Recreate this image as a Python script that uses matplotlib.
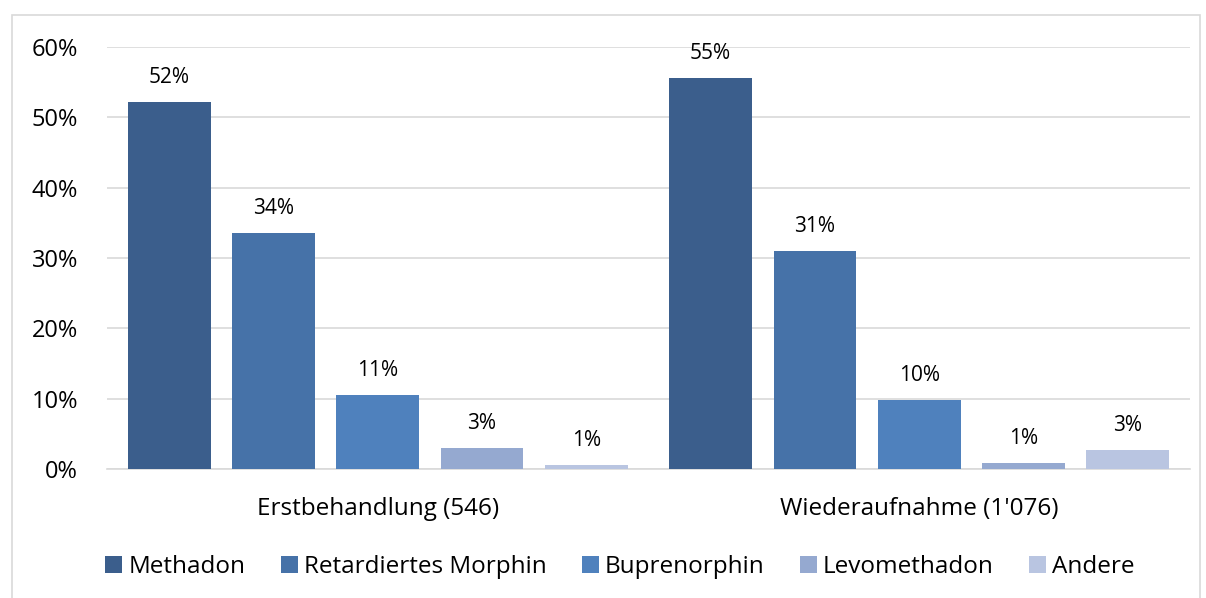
import numpy as np
import matplotlib.pyplot as plt
from matplotlib.patches import Rectangle

plt.rcParams['font.family'] = ['Open Sans', 'DejaVu Sans']

gruppen = ["Erstbehandlung (546)", "Wiederaufnahme (1'076)"]
serien = ["Methadon", "Retardiertes Morphin", "Buprenorphin", "Levomethadon", "Andere"]
werte = {
    "Methadon": [52.2, 55.6],
    "Retardiertes Morphin": [33.6, 31.0],
    "Buprenorphin": [10.5, 9.8],
    "Levomethadon": [3.0, 0.85],
    "Andere": [0.6, 2.7],
}
beschriftung = {
    "Methadon": ["52%", "55%"],
    "Retardiertes Morphin": ["34%", "31%"],
    "Buprenorphin": ["11%", "10%"],
    "Levomethadon": ["3%", "1%"],
    "Andere": ["1%", "3%"],
}
farben = ["#3B5E8C", "#4672A8", "#4F81BD", "#95A9D0", "#B9C5E1"]
yticks = [0, 10, 20, 30, 40, 50, 60]

fig = plt.figure(figsize=(12.06, 5.98), dpi=100)
ax = fig.add_axes([107/1206, 1 - 469/598, (1190 - 107)/1206, (469 - 47)/598])

# Rahmen um das Diagramm
fig.patches.append(Rectangle((12/1206, -0.01), (1200 - 12)/1206, 1 - 15/598 + 0.01,
                             transform=fig.transFigure, fill=False,
                             edgecolor="#D9D9D9", linewidth=1.2))

x = np.arange(len(gruppen))
schritt = 0.1926
breite = 0.153
for k, (name, farbe) in enumerate(zip(serien, farben)):
    pos = x + (k - 2) * schritt
    bars = ax.bar(pos, werte[name], width=breite, color=farbe, label=name, zorder=3)
    for b, txt in zip(bars, beschriftung[name]):
        ax.annotate(txt, (b.get_x() + b.get_width()/2, b.get_height()),
                    xytext=(0, 10), textcoords="offset points",
                    ha="center", va="bottom", fontsize=15)

ax.set_xlim(-0.5, 1.5)
ax.set_ylim(0, 60)
ax.set_yticks(yticks)
ax.set_yticklabels([f"{t}%" for t in yticks], fontsize=17)
ax.set_xticks(x)
ax.set_xticklabels(gruppen, fontsize=17.5)
ax.tick_params(axis="both", length=0)
ax.tick_params(axis="y", pad=21)
ax.tick_params(axis="x", pad=20)
ax.grid(axis="y", color="#D9D9D9", linewidth=1.2, zorder=0)
for s in ["top", "right", "left"]:
    ax.spines[s].set_visible(False)
ax.spines["bottom"].set_color("#D9D9D9")
ax.spines["bottom"].set_linewidth(1.2)

fig.legend(loc="center", bbox_to_anchor=(620/1206, 1 - 567/598), ncol=5,
           frameon=False, fontsize=17.5, handlelength=0.7, handleheight=0.7,
           handletextpad=0.25, columnspacing=1.45)

fig.savefig("out.png", dpi=100)
